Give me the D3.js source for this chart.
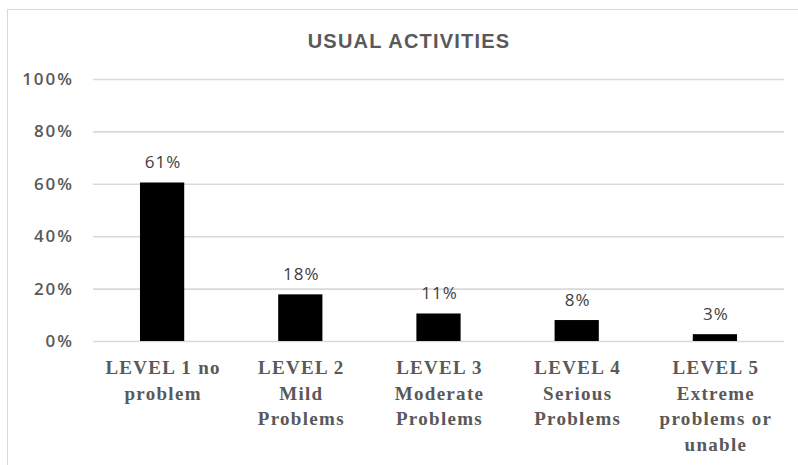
<!DOCTYPE html>
<html>
<head>
<meta charset="utf-8">
<script src="https://cdn.jsdelivr.net/npm/d3@7"></script>
<style>
  body { margin: 0; background: #fff; }
  svg { display: block; }
</style>
</head>
<body>
<div id="chart"></div>
<script>
// data
var title = "USUAL ACTIVITIES";
var categories = [
  ["LEVEL 1 no", "problem"],
  ["LEVEL 2", "Mild", "Problems"],
  ["LEVEL 3", "Moderate", "Problems"],
  ["LEVEL 4", "Serious", "Problems"],
  ["LEVEL 5", "Extreme", "problems or", "unable"]
];
var values = [60.5, 17.8, 10.5, 8, 2.6];
var yTicks = [0, 20, 40, 60, 80, 100];

var width = 798, height = 465;
var margin = {top: 79, right: 14, bottom: 124, left: 93};

var svg = d3.select("#chart").append("svg")
    .attr("width", width)
    .attr("height", height);

// chart frame
svg.append("rect")
    .attr("x", 7.5)
    .attr("y", 9.5)
    .attr("width", width)
    .attr("height", height)
    .attr("fill", "none")
    .attr("stroke", "#d9d9d9")
    .attr("stroke-width", 1);

var x = d3.scaleBand()
    .domain(d3.range(categories.length))
    .range([margin.left, width - margin.right])
    .paddingInner(0.68)
    .paddingOuter(0.34);

var y = d3.scaleLinear()
    .domain([0, 100])
    .range([height - margin.bottom, margin.top]);

// gridlines + tick labels
var yAxis = svg.append("g")
    .attr("transform", "translate(" + margin.left + ",0)")
    .call(d3.axisLeft(y)
        .tickValues(yTicks)
        .tickSize(-(width - margin.left - margin.right))
        .tickPadding(19)
        .tickFormat(function(d) { return d + "%"; }));

yAxis.select(".domain").remove();
yAxis.selectAll(".tick line")
    .attr("stroke", "#d9d9d9")
    .attr("stroke-width", 1.6);
yAxis.selectAll(".tick text")
    .attr("fill", "#595959")
    .style("font-family", "'Open Sans', sans-serif")
    .style("font-weight", 600)
    .style("font-size", "17px")
    .style("letter-spacing", "2px");

// bars
svg.append("g").selectAll("rect")
    .data(values)
    .enter().append("rect")
    .attr("x", function(d, i) { return x(i); })
    .attr("y", function(d) { return y(d); })
    .attr("width", x.bandwidth())
    .attr("height", function(d) { return y(0) - y(d); })
    .attr("fill", "#000");

// value labels
svg.append("g").selectAll("text")
    .data(values)
    .enter().append("text")
    .attr("x", function(d, i) { return x(i) + x.bandwidth() / 2 + 1; })
    .attr("y", function(d) { return y(d) - 14; })
    .attr("text-anchor", "middle")
    .attr("fill", "#404040")
    .style("font-family", "'Open Sans', sans-serif")
    .style("font-size", "17px")
    .style("letter-spacing", "1px")
    .text(function(d) { return Math.round(d) + "%"; });

// category labels
var cat = svg.append("g").selectAll("text")
    .data(categories)
    .enter().append("text")
    .attr("text-anchor", "middle")
    .attr("fill", "#595959")
    .style("font-family", "'Liberation Serif', 'Times New Roman', serif")
    .style("font-weight", "bold")
    .style("font-size", "19px")
    .style("letter-spacing", "1.3px");

cat.selectAll("tspan")
    .data(function(d, i) { return d.map(function(t) { return {t: t, i: i}; }); })
    .enter().append("tspan")
    .attr("x", function(d) { return x(d.i) + x.bandwidth() / 2 + 1; })
    .attr("y", function(d, j) { return y(0) + 33 + j * 25.7; })
    .text(function(d) { return d.t; });

// title
svg.append("text")
    .attr("x", 409)
    .attr("y", 48)
    .attr("text-anchor", "middle")
    .attr("fill", "#595959")
    .style("font-family", "'Liberation Sans', Arial, sans-serif")
    .style("font-weight", "bold")
    .style("font-size", "20px")
    .style("letter-spacing", "1.2px")
    .text(title);
</script>
</body>
</html>
